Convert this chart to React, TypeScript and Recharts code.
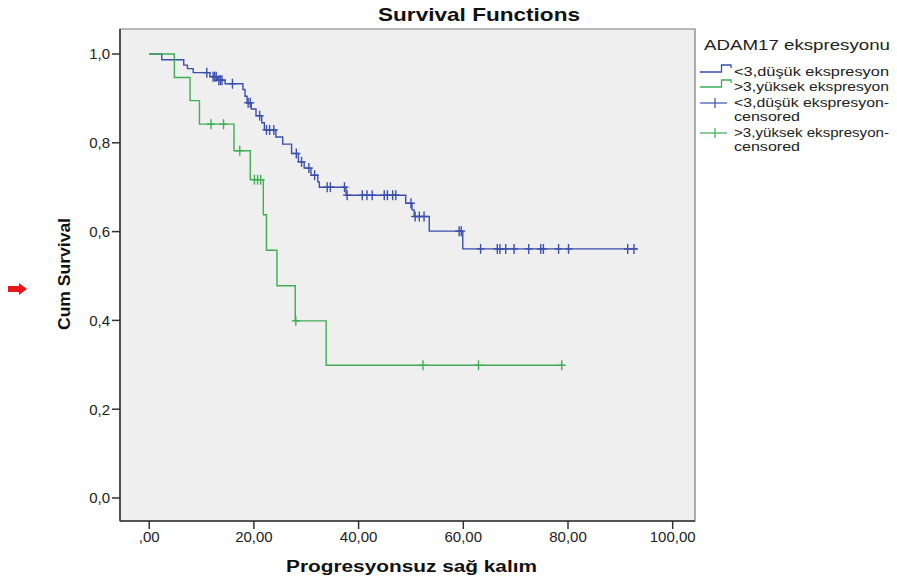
import React from 'react';
import { ComposedChart, Line, Scatter, XAxis, YAxis, ReferenceArea } from 'recharts';

const FONT = '"Liberation Sans", Arial, sans-serif';
const BLUE = '#3b4fae';
const GREEN = '#3fae55';

// <3, düşük ekspresyon
const lowTimes = [0, 2.4, 6.6, 7.3, 8.4, 11.6, 13.0, 14.5, 17.9, 18.3, 18.7, 19.5, 20.4, 21.5, 22.0, 24.2, 25.5, 27.2, 28.5, 29.6, 30.9, 32.2, 32.5, 37.6, 49.0, 50.2, 50.6, 53.5, 59.9, 93.3];
const lowSurv = [1, 0.987, 0.975, 0.967, 0.958, 0.949, 0.941, 0.933, 0.92, 0.905, 0.89, 0.876, 0.861, 0.845, 0.829, 0.813, 0.797, 0.776, 0.757, 0.743, 0.727, 0.712, 0.7, 0.682, 0.664, 0.649, 0.634, 0.601, 0.561, 0.561];
const lowCensTimes = [11.0, 12.2, 12.5, 12.8, 13.3, 13.6, 13.9, 15.9, 18.9, 19.3, 21.1, 22.4, 23.0, 23.8, 28.1, 29.1, 30.5, 31.6, 34.0, 34.6, 37.3, 37.8, 40.7, 41.6, 42.6, 44.9, 45.5, 46.5, 47.1, 50.0, 50.8, 51.6, 52.5, 59.2, 59.6, 63.3, 66.5, 67.0, 68.1, 69.7, 72.5, 74.8, 75.3, 78.2, 80.1, 91.4, 92.6];
const lowCensSurv = [0.958, 0.949, 0.949, 0.949, 0.941, 0.941, 0.941, 0.933, 0.89, 0.89, 0.861, 0.829, 0.829, 0.829, 0.776, 0.757, 0.743, 0.727, 0.7, 0.7, 0.7, 0.682, 0.682, 0.682, 0.682, 0.682, 0.682, 0.682, 0.682, 0.664, 0.634, 0.634, 0.634, 0.601, 0.601, 0.561, 0.561, 0.561, 0.561, 0.561, 0.561, 0.561, 0.561, 0.561, 0.561, 0.561, 0.561];

// >3, yüksek ekspresyon
const highTimes = [0, 4.8, 7.8, 9.6, 16.2, 19.3, 21.8, 22.4, 24.4, 27.9, 33.8, 79.3];
const highSurv = [1, 0.947, 0.895, 0.842, 0.782, 0.717, 0.638, 0.558, 0.478, 0.399, 0.299, 0.299];
const highCensTimes = [11.8, 14.2, 17.3, 20.1, 20.7, 21.3, 28.0, 52.3, 62.9, 78.8];
const highCensSurv = [0.842, 0.842, 0.782, 0.717, 0.717, 0.717, 0.399, 0.299, 0.299, 0.299];

const xTicks = [0, 20, 40, 60, 80, 100];
const yTicks = [0, 0.2, 0.4, 0.6, 0.8, 1.0];

const lowLine = lowTimes.map((t, i) => ({ t, s: lowSurv[i] }));
const highLine = highTimes.map((t, i) => ({ t, s: highSurv[i] }));
const lowCens = lowCensTimes.map((t, i) => ({ t, s: lowCensSurv[i] }));
const highCens = highCensTimes.map((t, i) => ({ t, s: highCensSurv[i] }));

const X_DOMAIN = [-5.58, 104.26];
const Y_DOMAIN = [-0.0518, 1.0563];

const censorMark = (color: string) => (props: any) => {
  const { cx, cy } = props;
  return (
    <g stroke={color} strokeWidth={1.4}>
      <line x1={cx} x2={cx} y1={cy - 5} y2={cy + 5} />
      <line x1={cx - 4} x2={cx + 4} y1={cy} y2={cy} />
    </g>
  );
};

const fmtX = (v: number) => (v === 0 ? ',00' : `${v},00`);
const fmtY = (v: number) => v.toFixed(1).replace('.', ',');

export default function App() {
  return (
    <div style={{ position: 'absolute', left: 0, top: 0, width: 897, height: 584, background: '#fff', fontFamily: FONT }}>
      <ComposedChart width={897} height={584} margin={{ top: 29, right: 202, bottom: 33, left: 70 }}>
        <ReferenceArea x1={X_DOMAIN[0]} x2={X_DOMAIN[1]} y1={Y_DOMAIN[0]} y2={Y_DOMAIN[1]} fill="#efefef" fillOpacity={1} stroke="#7a7a7a" strokeWidth={1.2} ifOverflow="visible" />
        <XAxis
          type="number"
          dataKey="t"
          domain={X_DOMAIN}
          ticks={xTicks}
          allowDataOverflow
          tickFormatter={fmtX}
          tickSize={8}
          height={30}
          stroke="#333"
          strokeWidth={1.5}
          tick={{ fill: '#222', fontSize: 15, fontFamily: FONT }}
        />
        <YAxis
          type="number"
          dataKey="s"
          domain={Y_DOMAIN}
          ticks={yTicks}
          allowDataOverflow
          tickFormatter={fmtY}
          tickSize={8}
          width={50}
          stroke="#333"
          strokeWidth={1.5}
          tick={{ fill: '#222', fontSize: 15, fontFamily: FONT }}
        />
        <Line data={lowLine} dataKey="s" type="stepAfter" stroke={BLUE} strokeWidth={1.4} dot={false} isAnimationActive={false} />
        <Line data={highLine} dataKey="s" type="stepAfter" stroke={GREEN} strokeWidth={1.4} dot={false} isAnimationActive={false} />
        <Scatter data={lowCens} dataKey="s" shape={censorMark(BLUE)} isAnimationActive={false} />
        <Scatter data={highCens} dataKey="s" shape={censorMark(GREEN)} isAnimationActive={false} />
      </ComposedChart>

      <svg width={897} height={584} style={{ position: 'absolute', left: 0, top: 0, pointerEvents: 'none' }} fontFamily={FONT}>
        <text x={479} y={21} textAnchor="middle" fontSize={19} fontWeight="bold" fill="#111" textLength={202} lengthAdjust="spacingAndGlyphs">Survival Functions</text>
        <text x={411.5} y={572} textAnchor="middle" fontSize={16} fontWeight="bold" fill="#111" textLength={251} lengthAdjust="spacingAndGlyphs">Progresyonsuz sağ kalım</text>
        <text transform="translate(70,274) rotate(-90)" textAnchor="middle" fontSize={16} fontWeight="bold" fill="#111" textLength={112} lengthAdjust="spacingAndGlyphs">Cum Survival</text>
        <polygon points="8,286 19,286 19,283 27,289 19,295 19,292 8,292" fill="#e8161b" />

        <text x={704} y={50} fontSize={15} fill="#222" textLength={186} lengthAdjust="spacingAndGlyphs">ADAM17 ekspresyonu</text>

        <polyline points="700,72 721.5,72 721.5,65 731,65 731,68" fill="none" stroke={BLUE} strokeWidth={1.3} />
        <text x={734} y={75.5} fontSize={12.5} fill="#222" textLength={155} lengthAdjust="spacingAndGlyphs">&lt;3,düşük ekspresyon</text>

        <polyline points="700,87 721.5,87 721.5,80 731,80 731,83" fill="none" stroke={GREEN} strokeWidth={1.3} />
        <text x={734} y={90.5} fontSize={12.5} fill="#222" textLength={155} lengthAdjust="spacingAndGlyphs">&gt;3,yüksek ekspresyon</text>

        <line x1={700} x2={727} y1={103} y2={103} stroke={BLUE} strokeWidth={1.2} />
        <line x1={715} x2={715} y1={98} y2={108} stroke={BLUE} strokeWidth={1.2} />
        <text x={734} y={107} fontSize={12.5} fill="#222" textLength={155} lengthAdjust="spacingAndGlyphs">&lt;3,düşük ekspresyon-</text>
        <text x={734} y={121} fontSize={12.5} fill="#222" textLength={66} lengthAdjust="spacingAndGlyphs">censored</text>

        <line x1={700} x2={727} y1={133} y2={133} stroke={GREEN} strokeWidth={1.2} />
        <line x1={715} x2={715} y1={128} y2={138} stroke={GREEN} strokeWidth={1.2} />
        <text x={734} y={137} fontSize={12.5} fill="#222" textLength={155} lengthAdjust="spacingAndGlyphs">&gt;3,yüksek ekspresyon-</text>
        <text x={734} y={151} fontSize={12.5} fill="#222" textLength={66} lengthAdjust="spacingAndGlyphs">censored</text>
      </svg>
    </div>
  );
}
